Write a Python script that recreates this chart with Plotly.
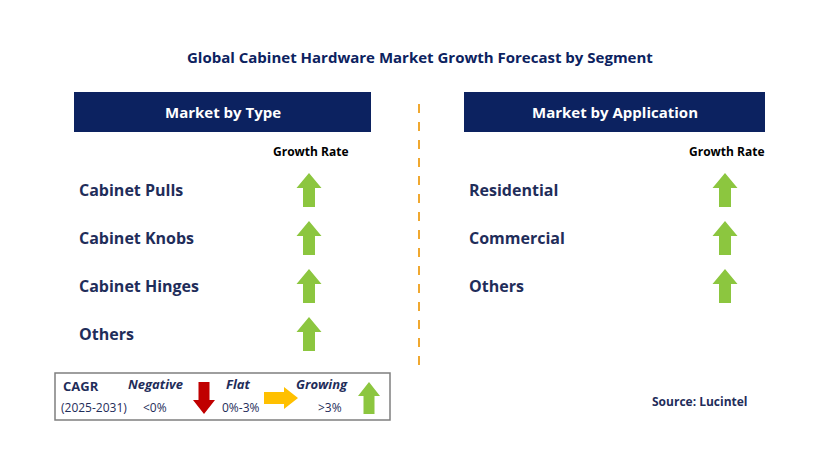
import plotly.graph_objects as go

# data
title = "Global Cabinet Hardware Market Growth Forecast by Segment"
type_labels = ["Cabinet Pulls", "Cabinet Knobs", "Cabinet Hinges", "Others"]
type_growth = ["up", "up", "up", "up"]
app_labels = ["Residential", "Commercial", "Others"]
app_growth = ["up", "up", "up"]
legend_items = ["Negative", "Flat", "Growing"]
legend_ranges = ["<0%", "0%-3%", ">3%"]
legend_dirs = ["down", "right", "up"]

NAVY = "#0c2260"
TXT = "#1f2d5a"
COLS = {"up": "#8cc63f", "down": "#c00000", "right": "#ffc000"}

def arrow(cx, cy, d, L=34, W=25, S=12, H=15):
    # arrow polygon points, pointing up then rotated
    pts = [(-S/2, L/2), (-S/2, -L/2+H), (-W/2, -L/2+H), (0, -L/2),
           (W/2, -L/2+H), (S/2, -L/2+H), (S/2, L/2)]
    if d == "down":
        pts = [(x, -y) for x, y in pts]
    elif d == "right":
        pts = [(-y, x) for x, y in pts]
    p = "M " + " L ".join(f"{cx+x},{cy+y}" for x, y in pts) + " Z"
    return dict(type="path", path=p, fillcolor=COLS[d], line=dict(width=0), xref="x", yref="y")

fig = go.Figure()
shapes, ann = [], []
font = "Open Sans, Arial, sans-serif"

def txt(x, y, s, size=14, color=TXT, bold=True, anchor="left", italic=False):
    t = f"<b>{s}</b>" if bold else s
    if italic:
        t = f"<i>{t}</i>"
    ann.append(dict(x=x, y=y, text=t, showarrow=False, xanchor=anchor, yanchor="middle",
                    font=dict(size=size, color=color, family=font)))

txt(420, 57, title, 15, color=NAVY, anchor="center")

for x0, x1, head in [(74, 371, "Market by Type"), (464, 765, "Market by Application")]:
    shapes.append(dict(type="rect", x0=x0, x1=x1, y0=92, y1=132, fillcolor=NAVY, line=dict(width=0)))
    txt((x0 + x1) / 2, 112, head, 15, color="white", anchor="center")

shapes.append(dict(type="line", x0=419, x1=419, y0=104, y1=365,
                   line=dict(color="#f0a830", width=2, dash="dash")))

for lx, ax, labels, growth in [(77, 309, type_labels, type_growth), (467, 725, app_labels, app_growth)]:
    txt(ax + 2, 151, "Growth Rate", 12, color="black", anchor="center")
    for i, (lab, g) in enumerate(zip(labels, growth)):
        y = 190 + 48 * i
        txt(lx, y, lab, 16)
        shapes.append(arrow(ax, y, g))

# legend box
shapes.append(dict(type="rect", x0=55, x1=390, y0=373, y1=420, line=dict(color="#7f7f7f", width=1.5)))
txt(61, 386, "CAGR", 13)
txt(59, 407, "(2025-2031)", 12, bold=False)
lx = [155, 238, 322]
rx = [155, 241, 330]
ax = [204, 281, 369]
for i in range(3):
    txt(lx[i], 384, legend_items[i], 13, italic=True, anchor="center")
    txt(rx[i], 407, legend_ranges[i], 12, bold=False, anchor="center")
    if legend_dirs[i] == "right":
        shapes.append(arrow(ax[i], 398, "right", L=34, W=22, S=12, H=14))
    else:
        shapes.append(arrow(ax[i], 398, legend_dirs[i], L=32, W=22, S=11, H=14))

txt(700, 401, "Source: Lucintel", 12, color=TXT, anchor="center")

fig.update_layout(
    width=829, height=460, margin=dict(l=0, r=0, t=0, b=0),
    plot_bgcolor="white", paper_bgcolor="white",
    xaxis=dict(range=[8, 837], visible=False, fixedrange=True),
    yaxis=dict(range=[468, 8], visible=False, fixedrange=True),
    shapes=shapes, annotations=ann, showlegend=False,
)
fig.write_html("out.html")
